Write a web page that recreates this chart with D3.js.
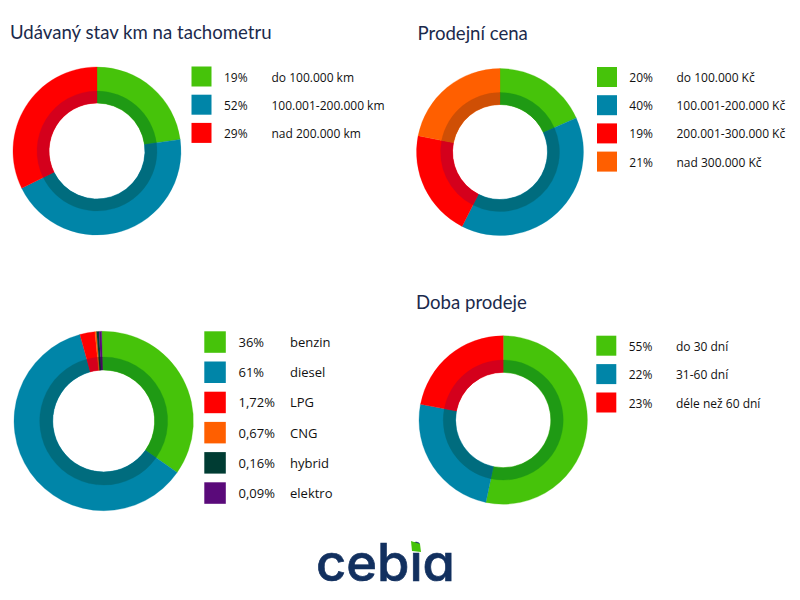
<!DOCTYPE html>
<html>
<head>
<meta charset="utf-8">
<style>
  html, body { margin: 0; padding: 0; background: #fff; }
  svg { display: block; }
  text { font-family: "Open Sans", sans-serif; }
  .title { font-family: Lato, sans-serif; fill: #1b2a4c; }
  .legend { fill: #111; font-weight: 500; }
  .logo { font-family: Inter, sans-serif; font-weight: 500; fill: #12305f; stroke: #12305f; stroke-width: 0.7; font-feature-settings: "cv11"; }
</style>
</head>
<body>
<svg id="chart" width="800" height="600"></svg>
<script src="https://cdn.jsdelivr.net/npm/d3@7"></script>
<script>
// slice sizes are measured off the drawn arcs, they do not follow the printed percentages
var kmTitle = "Udávaný stav km na tachometru";
var kmPercents = ["19%", "52%", "29%"];
var kmLabels = ["do 100.000 km", "100.001-200.000 km", "nad 200.000 km"];
var kmArcs = [22.8, 44.9, 32.3];

var cenaTitle = "Prodejní cena";
var cenaPercents = ["20%", "40%", "19%", "21%"];
var cenaLabels = ["do 100.000 Kč", "100.001-200.000 Kč", "200.001-300.000 Kč", "nad 300.000 Kč"];
var cenaArcs = [18.3, 39.2, 20.6, 21.9];

var palivoPercents = ["36%", "61%", "1,72%", "0,67%", "0,16%", "0,09%"];
var palivoLabels = ["benzin", "diesel", "LPG", "CNG", "hybrid", "elektro"];
var palivoArcs = [35.1, 61, 2.7, 0.3, 0.45, 0.45];

var dobaTitle = "Doba prodeje";
var dobaPercents = ["55%", "22%", "23%"];
var dobaLabels = ["do 30 dní", "31-60 dní", "déle než 60 dní"];
var dobaArcs = [53.3, 24.7, 22];

var colors = ["#46c30a", "#0085a8", "#ff0000", "#ff5f00", "#003c33", "#5a0a7a"];
var darkColors = ["#1f9a14", "#006c7e", "#d4001c", "#cf4f05", "#003028", "#480860"];

var color = d3.scaleOrdinal().domain(d3.range(6)).range(colors);
var darkColor = d3.scaleOrdinal().domain(d3.range(6)).range(darkColors);

var svg = d3.select("#chart");

function drawDonut(opt) {
  var g = svg.append("g").attr("transform", "translate(" + opt.cx + "," + opt.cy + ")");

  var pie = d3.pie().sort(null)
    .startAngle(opt.start || 0)
    .endAngle((opt.start || 0) + 2 * Math.PI);
  var slices = pie(opt.arcs);

  // outer arc runs under the dark ring so no seam shows between them
  var outer = d3.arc().innerRadius(opt.hole).outerRadius(opt.r);
  var inner = d3.arc().innerRadius(opt.hole).outerRadius(opt.mid);

  g.selectAll("path.outer").data(slices).enter().append("path")
    .attr("class", "outer")
    .attr("d", outer)
    .attr("fill", function(d, i) { return color(i); })
    .attr("stroke", function(d, i) { return color(i); })
    .attr("stroke-width", 0.3);

  g.selectAll("path.inner").data(slices).enter().append("path")
    .attr("class", "inner")
    .attr("d", inner)
    .attr("fill", function(d, i) { return darkColor(i); })
    .attr("stroke", function(d, i) { return darkColor(i); })
    .attr("stroke-width", 0.3);

  if (opt.title) {
    svg.append("text").attr("class", "title")
      .attr("x", opt.titleX).attr("y", opt.titleY)
      .attr("font-size", opt.titleSize)
      .text(opt.title);
  }

  // legend
  var y = d3.scaleLinear().domain([0, 1]).range([opt.legendY, opt.legendY + opt.step]);
  var rows = svg.selectAll("g.row" + opt.id).data(opt.labels).enter().append("g")
    .attr("class", "row" + opt.id)
    .attr("transform", function(d, i) { return "translate(0," + y(i) + ")"; });

  rows.append("rect")
    .attr("x", opt.swatchX).attr("y", 0)
    .attr("width", opt.swatch).attr("height", opt.swatch)
    .attr("fill", function(d, i) { return color(i); });

  rows.append("text").attr("class", "legend")
    .attr("x", opt.pctX).attr("y", opt.swatch / 2 + 5)
    .attr("font-size", opt.fontSize)
    .text(function(d, i) { return opt.percents[i]; });

  rows.append("text").attr("class", "legend")
    .attr("x", opt.labelX).attr("y", opt.swatch / 2 + 5)
    .attr("font-size", opt.fontSize)
    .text(function(d) { return d; });
}

drawDonut({ id: 1, cx: 97, cy: 151, r: 84, mid: 60, hole: 48, arcs: kmArcs,
  title: kmTitle, titleX: 10, titleY: 39, titleSize: 18.6,
  labels: kmLabels, percents: kmPercents,
  swatchX: 191.5, swatch: 20, legendY: 66.5, step: 28.2, pctX: 224, labelX: 271.5, fontSize: 12 });

drawDonut({ id: 2, cx: 500, cy: 152, r: 83.5, mid: 59.5, hole: 47.5, arcs: cenaArcs,
  title: cenaTitle, titleX: 417.5, titleY: 40, titleSize: 18.6,
  labels: cenaLabels, percents: cenaPercents,
  swatchX: 597, swatch: 20, legendY: 67, step: 28.2, pctX: 629.3, labelX: 676.5, fontSize: 12 });

drawDonut({ id: 3, cx: 103.7, cy: 421, r: 89.7, mid: 64, hole: 51, arcs: palivoArcs,
  start: -0.023,
  labels: palivoLabels, percents: palivoPercents,
  swatchX: 204.3, swatch: 21.5, legendY: 331.3, step: 30.2, pctX: 238.5, labelX: 290, fontSize: 13 });

drawDonut({ id: 4, cx: 503.2, cy: 420, r: 84.2, mid: 60, hole: 47.7, arcs: dobaArcs,
  title: dobaTitle, titleX: 416, titleY: 309, titleSize: 18.6,
  labels: dobaLabels, percents: dobaPercents,
  swatchX: 596.3, swatch: 20, legendY: 335.7, step: 28.4, pctX: 628.7, labelX: 676, fontSize: 12 });

// logo, the green leaf sits over the dot of the i
svg.append("text").attr("class", "logo")
  .attr("x", 316).attr("y", 581)
  .attr("font-size", 52)
  .attr("textLength", 139).attr("lengthAdjust", "spacingAndGlyphs")
  .text("cebia");

svg.append("path")
  .attr("d", "M411,541L420,544L421,552L412,551Z")
  .attr("fill", "#46c30a");
</script>
</body>
</html>
